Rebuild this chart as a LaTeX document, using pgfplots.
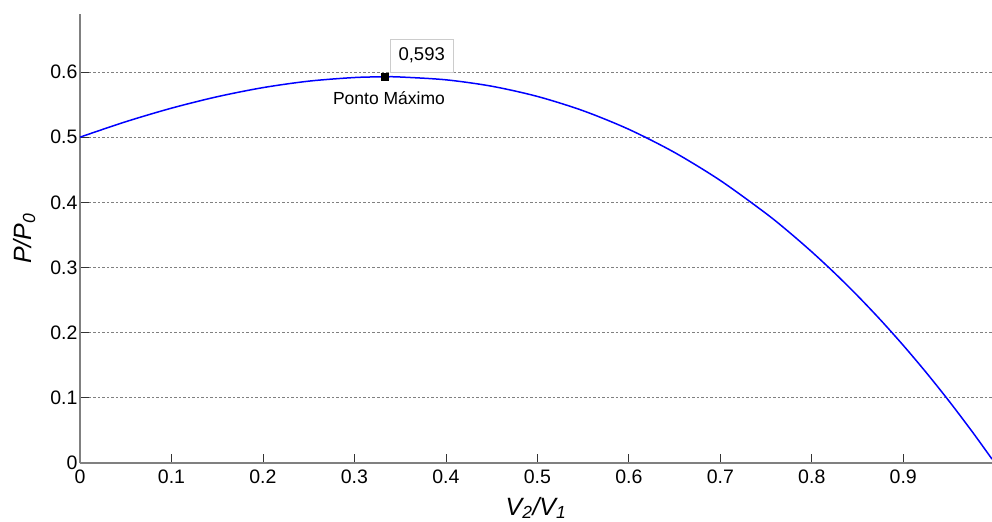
\documentclass[border=0pt]{standalone}
\usepackage{fontspec}
\setmainfont{Liberation Sans}
\usepackage{pgfplots}
\pgfplotsset{compat=1.18}
\definecolor{axgray}{RGB}{128,128,128}
\begin{document}
\begin{tikzpicture}
\begin{axis}[
    name=ax,
    scale only axis,
    width=912pt, height=449pt,
    xmin=0, xmax=0.997,
    ymin=0, ymax=0.689,
    axis x line*=bottom,
    axis y line*=left,
    axis line style={axgray, line width=1.2pt},
    xtick={0,0.1,...,0.9},
    ytick={0,0.1,...,0.6},
    tick align=inside,
    major tick length=9pt,
    tick style={black!80, line width=0.8pt},
    ymajorgrids,
    major grid style={axgray, dash pattern=on 2.5pt off 2pt, line width=0.8pt},
    /pgf/number format/assume math mode=true,
    tick label style={font=\fontsize{19.5}{22}\selectfont},
    xticklabel style={yshift=-3pt},
    yticklabel style={xshift=1pt},
    xlabel={\itshape V\textsubscript{2}/V\textsubscript{1}},
    ylabel={\itshape P/P\textsubscript{0}},
    label style={font=\fontsize{25}{30}\selectfont},
    xlabel style={at={(axis description cs:0.5,-0.1)}, anchor=center},
    ylabel style={at={(axis description cs:-0.061,0.5)}, anchor=center, rotate=0},
    clip=true,
]
\addplot[blue, line width=1.5pt, smooth] coordinates {
    (0.000, 0.50000) (0.050, 0.52369) (0.100, 0.54450) (0.150, 0.56206)
    (0.200, 0.57600) (0.250, 0.58594) (0.300, 0.59150) (0.333, 0.59259)
    (0.350, 0.59231) (0.400, 0.58800) (0.450, 0.57819) (0.500, 0.56250)
    (0.550, 0.54056) (0.600, 0.51200) (0.650, 0.47644) (0.700, 0.43350)
    (0.750, 0.38281) (0.775, 0.35445) (0.800, 0.32400) (0.825, 0.29143)
    (0.850, 0.25669) (0.875, 0.21973) (0.900, 0.18050) (0.925, 0.13896)
    (0.950, 0.09506) (0.975, 0.04876) (0.997, 0.00598)
};
\addplot[only marks, mark=square*, mark size=3.5pt, black] coordinates {(0.3333, 0.5926)};
\node[draw=black!20, fill=white, anchor=south west, inner sep=0pt,
      minimum width=63pt, minimum height=33pt, font=\fontsize{18.5}{21}\selectfont]
    at (axis cs:0.3389,0.600) {0,593};
\node[anchor=base, font=\fontsize{17.5}{20}\selectfont] at (axis cs:0.3378,0.5494) {Ponto Máximo};
\end{axis}
\pgfresetboundingbox
\path ([shift={(-80pt,-59pt)}]ax.south west) rectangle ([shift={(0pt,14pt)}]ax.north east);
\end{tikzpicture}
\end{document}
